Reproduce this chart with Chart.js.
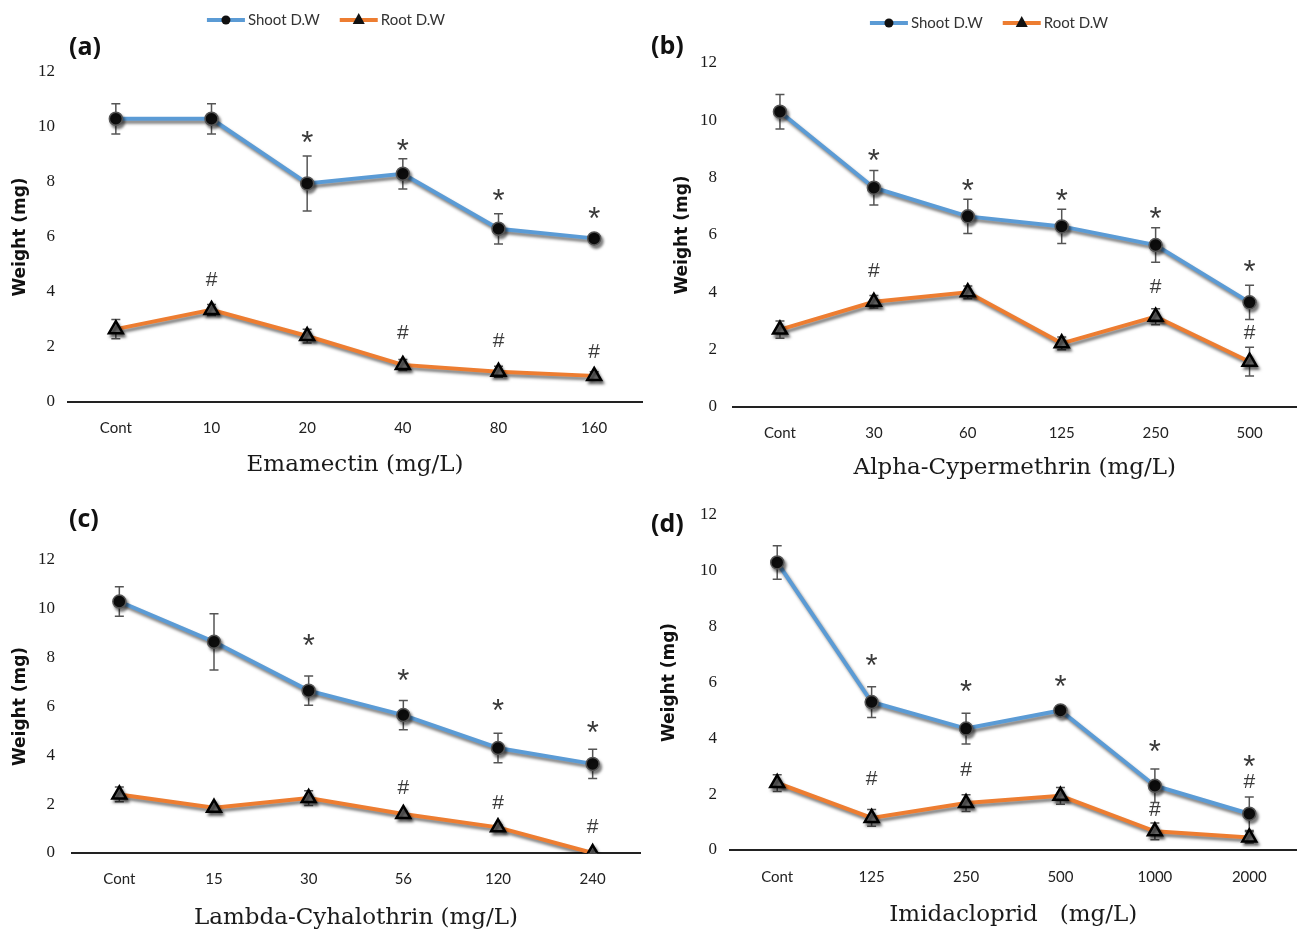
<!DOCTYPE html>
<html>
<head>
<meta charset="utf-8">
<script src="https://cdn.jsdelivr.net/npm/chart.js@4.4.1/dist/chart.umd.min.js"></script>
<style>
  html, body { margin: 0; padding: 0; background: #fff; }
  body { width: 1307px; height: 933px; position: relative; overflow: hidden; }
  canvas { position: absolute; }
  .tag { position: absolute; font: bold 25px "Open Sans", sans-serif; color: #111; line-height: 1; }
</style>
</head>
<body>
<canvas id="chartA" style="left:0;top:0" width="653" height="484"></canvas>
<canvas id="chartB" style="left:653px;top:0" width="654" height="484"></canvas>
<canvas id="chartC" style="left:0;top:480px" width="653" height="453"></canvas>
<canvas id="chartD" style="left:653px;top:480px" width="654" height="453"></canvas>
<div class="tag" style="left:69px;top:33px">(a)</div>
<div class="tag" style="left:651px;top:32px">(b)</div>
<div class="tag" style="left:69px;top:505px">(c)</div>
<div class="tag" style="left:651px;top:510px">(d)</div>
<script>
// (a) Emamectin
const labelsA = ['Cont', '10', '20', '40', '80', '160'];
const shootA = [10.3, 10.3, 7.95, 8.3, 6.3, 5.95];
const shootErrA = [0.55, 0.55, 1.0, 0.55, 0.55, 0.12];
const rootA = [2.65, 3.35, 2.4, 1.35, 1.1, 0.95];
const rootErrA = [0.35, 0.2, 0.25, 0.2, 0.2, 0.15];
const starA = [null, null, 9.67, 9.35, 7.55, 6.9];
const hashA = [null, 4.43, null, 2.5, 2.2, 1.8];

// (b) Alpha-Cypermethrin
const labelsB = ['Cont', '30', '60', '125', '250', '500'];
const shootB = [10.3, 7.65, 6.65, 6.3, 5.65, 3.65];
const shootErrB = [0.6, 0.6, 0.6, 0.6, 0.6, 0.6];
const rootB = [2.7, 3.67, 4.0, 2.22, 3.15, 1.58];
const rootErrB = [0.3, 0.22, 0.22, 0.22, 0.28, 0.5];
const starB = [null, 8.8, 7.78, 7.43, 6.77, 4.95];
const hashB = [null, 4.72, null, null, 4.17, 2.57];

// (c) Lambda-Cyhalothrin
const labelsC = ['Cont', '15', '30', '56', '120', '240'];
const shootC = [10.3, 8.65, 6.65, 5.65, 4.3, 3.65];
const shootErrC = [0.6, 1.15, 0.6, 0.6, 0.6, 0.6];
const rootC = [2.4, 1.85, 2.25, 1.6, 1.05, 0];
const rootErrC = [0.3, 0.1, 0.3, 0.1, 0.1, 0.1];
const starC = [null, null, 8.73, 7.3, 6.07, 5.17];
const hashC = [null, null, null, 2.66, 2.05, 1.07];

// (d) Imidacloprid
const labelsD = ['Cont', '125', '250', '500', '1000', '2000'];
const shootD = [10.3, 5.3, 4.35, 5.0, 2.3, 1.3];
const shootErrD = [0.6, 0.55, 0.55, 0.15, 0.6, 0.6];
const rootD = [2.4, 1.15, 1.68, 1.94, 0.67, 0.45];
const rootErrD = [0.3, 0.3, 0.3, 0.3, 0.3, 0.2];
const starD = [null, 6.84, 5.9, 6.06, 3.76, 3.22];
const hashD = [null, 2.54, 2.87, null, 1.43, 2.44];

const SHOOT_COLOR = '#5b9bd5';
const ROOT_COLOR = '#ed7d31';

// gray drop shadow under lines and markers, like the excel "shadow" effect
const lineShadow = {
  id: 'lineShadow',
  beforeDatasetDraw(chart) {
    const c = chart.ctx;
    c.save();
    c.shadowColor = 'rgba(0,0,0,0.5)';
    c.shadowBlur = 3;
    c.shadowOffsetX = 2;
    c.shadowOffsetY = 3;
  },
  afterDatasetDraw(chart) {
    chart.ctx.restore();
  }
};

// vertical error bars with caps
const errorBars = {
  id: 'errorBars',
  beforeDatasetsDraw(chart) {
    const ctx = chart.ctx;
    const y = chart.scales.y;
    chart.data.datasets.forEach((ds, i) => {
      if (!ds.errors) return;
      const meta = chart.getDatasetMeta(i);
      ctx.save();
      ctx.strokeStyle = '#555';
      ctx.lineWidth = 1.5;
      meta.data.forEach((pt, j) => {
        const e = ds.errors[j];
        if (!e) return;
        const v = ds.data[j];
        const top = y.getPixelForValue(v + e);
        const bot = y.getPixelForValue(Math.max(0, v - e));
        ctx.beginPath();
        ctx.moveTo(pt.x, top); ctx.lineTo(pt.x, bot);
        ctx.moveTo(pt.x - 4.5, top); ctx.lineTo(pt.x + 4.5, top);
        ctx.moveTo(pt.x - 4.5, bot); ctx.lineTo(pt.x + 4.5, bot);
        ctx.stroke();
      });
      ctx.restore();
    });
  }
};

// significance signs (* shoot, # root)
const sigMarks = {
  id: 'sigMarks',
  afterDatasetsDraw(chart) {
    const ctx = chart.ctx;
    const x = chart.scales.x, y = chart.scales.y;
    ctx.save();
    ctx.fillStyle = '#3a3a3a';
    ctx.textAlign = 'center';
    ctx.textBaseline = 'middle';
    chart.data.datasets.forEach(ds => {
      if (!ds.marks) return;
      ctx.font = ds.marks.font;
      ds.marks.at.forEach((v, j) => {
        if (v == null) return;
        ctx.fillText(ds.marks.text, x.getPixelForValue(j), y.getPixelForValue(v) + ds.marks.shift);
      });
    });
    ctx.restore();
  }
};

// legend drawn as line-with-marker, like the original
const lineLegend = {
  id: 'lineLegend',
  afterDraw(chart, args, opts) {
    if (!opts.show) return;
    const ctx = chart.ctx;
    ctx.save();
    ctx.font = '15px Lato, sans-serif';
    ctx.textBaseline = 'middle';
    const items = chart.data.datasets.map(ds => ({ ds, w: 38 + 3 + ctx.measureText(ds.label).width }));
    const total = items.reduce((s, it) => s + it.w, 0) + 20 * (items.length - 1);
    let cx = opts.centerX - total / 2;
    const yy = opts.y;
    items.forEach(it => {
      const ds = it.ds;
      ctx.strokeStyle = ds.borderColor;
      ctx.lineWidth = 4;
      ctx.beginPath();
      ctx.moveTo(cx, yy); ctx.lineTo(cx + 38, yy);
      ctx.stroke();
      ctx.fillStyle = '#111';
      ctx.beginPath();
      if (ds.pointStyle === 'triangle') {
        ctx.moveTo(cx + 19, yy - 7); ctx.lineTo(cx + 25, yy + 4); ctx.lineTo(cx + 13, yy + 4);
        ctx.closePath();
      } else {
        ctx.arc(cx + 19, yy, 4.5, 0, Math.PI * 2);
      }
      ctx.fill();
      ctx.fillStyle = '#333';
      ctx.fillText(ds.label, cx + 41, yy);
      cx += it.w + 20;
    });
    ctx.restore();
  }
};

function buildPanel(id, p) {
  return new Chart(document.getElementById(id), {
    type: 'line',
    data: {
      labels: p.labels,
      datasets: [
        {
          label: 'Shoot D.W',
          data: p.shoot,
          errors: p.shootErr,
          marks: { text: '*', at: p.star, font: '31px "Liberation Sans"', shift: 8 },
          borderColor: SHOOT_COLOR,
          borderWidth: 4,
          tension: 0,
          pointStyle: 'circle',
          pointRadius: 6.5,
          pointBackgroundColor: '#0d0d0d',
          pointBorderColor: '#555',
          pointBorderWidth: 1.5
        },
        {
          label: 'Root D.W',
          data: p.root,
          errors: p.rootErr,
          marks: { text: '#', at: p.hash, font: '21px "Liberation Sans"', shift: 0 },
          borderColor: ROOT_COLOR,
          borderWidth: 4,
          tension: 0,
          pointStyle: 'triangle',
          pointRadius: 8,
          pointBackgroundColor: '#6a6a6a',
          pointBorderColor: '#000',
          pointBorderWidth: 2.5
        }
      ]
    },
    options: {
      responsive: false,
      animation: false,
      events: [],
      layout: { padding: { top: p.top, right: p.right, left: 0, bottom: 0 } },
      plugins: {
        legend: { display: false },
        tooltip: { enabled: false },
        lineLegend: p.legend || { show: false }
      },
      scales: {
        x: {
          offset: true,
          grid: { display: false, drawTicks: false },
          border: { display: true, color: '#222', width: 2 },
          ticks: { padding: p.xPad, color: '#222', font: { family: 'Lato', size: 15 } },
          title: {
            display: true,
            text: p.xTitle,
            color: '#1a1a1a',
            font: { family: 'DejaVu Serif', size: 23 },
            padding: { top: 0, bottom: p.xTitlePad }
          },
          afterFit: s => { s.height = p.xH; }
        },
        y: {
          min: 0,
          max: 12,
          ticks: { stepSize: 2, padding: p.yPad, color: '#1a1a1a', font: { family: 'Liberation Serif', size: 17 } },
          grid: { display: false, drawTicks: false },
          border: { display: false },
          title: {
            display: true,
            text: 'Weight (mg)',
            color: '#111',
            font: { family: 'DejaVu Sans', size: 17, weight: 'bold' },
            padding: { top: p.yTitlePad, bottom: 0 }
          },
          afterFit: s => { s.width = p.yW; }
        }
      }
    },
    plugins: [lineShadow, errorBars, sigMarks, lineLegend]
  });
}

buildPanel('chartA', {
  labels: labelsA, shoot: shootA, shootErr: shootErrA, root: rootA, rootErr: rootErrA, star: starA, hash: hashA,
  xTitle: 'Emamectin (mg/L)',
  top: 72, right: 11, yW: 68, xH: 82, xPad: 17, xTitlePad: 5, yPad: 13, yTitlePad: 10,
  legend: { show: true, centerX: 326, y: 20 }
});
buildPanel('chartB', {
  labels: labelsB, shoot: shootB, shootErr: shootErrB, root: rootB, rootErr: rootErrB, star: starB, hash: hashB,
  xTitle: 'Alpha-Cypermethrin (mg/L)',
  top: 63, right: 0, yW: 80, xH: 77, xPad: 17, xTitlePad: 2, yPad: 16, yTitlePad: 19,
  legend: { show: true, centerX: 336, y: 23 }
});
buildPanel('chartC', {
  labels: labelsC, shoot: shootC, shootErr: shootErrC, root: rootC, rootErr: rootErrC, star: starC, hash: hashC,
  xTitle: 'Lambda-Cyhalothrin (mg/L)',
  top: 80, right: 13, yW: 72, xH: 80, xPad: 17, xTitlePad: 1, yPad: 17, yTitlePad: 10
});
buildPanel('chartD', {
  labels: labelsD, shoot: shootD, shootErr: shootErrD, root: rootD, rootErr: rootErrD, star: starD, hash: hashD,
  xTitle: 'Imidacloprid   (mg/L)',
  top: 35, right: 4, yW: 77, xH: 83, xPad: 18, xTitlePad: 4, yPad: 13, yTitlePad: 6
});
</script>
</body>
</html>
